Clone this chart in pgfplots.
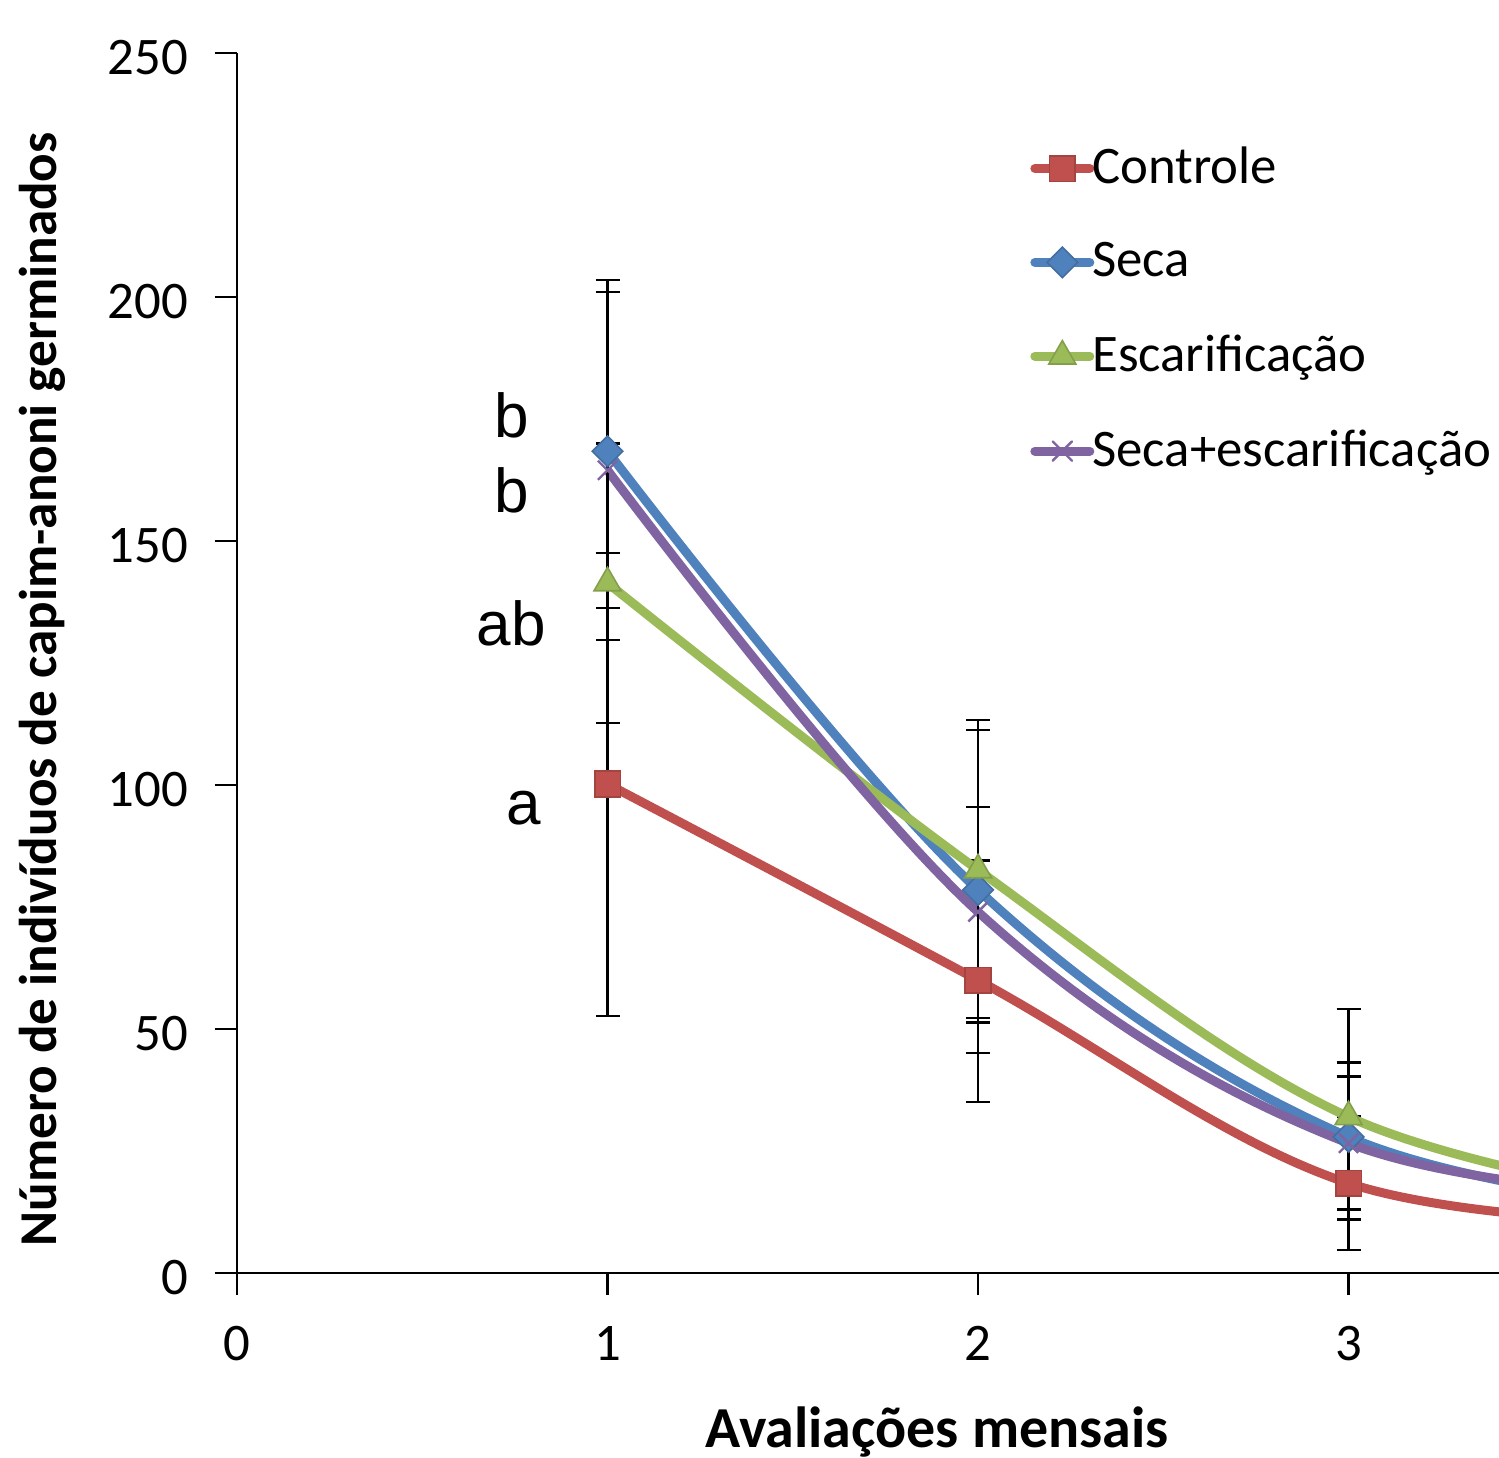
\documentclass[border=0pt]{standalone}
\usepackage{fontspec}
\setmainfont{Carlito}
\newfontfamily\arialf{Liberation Sans}
\usepackage{pgfplots}
\usepackage{pgfplotstable}
\pgfplotsset{compat=1.18}
\definecolor{cR}{RGB}{192,80,77}
\definecolor{cB}{RGB}{79,129,189}
\definecolor{cG}{RGB}{155,187,89}
\definecolor{cP}{RGB}{128,100,162}

\pgfplotstableread{
x y ep em
1 100.2 47.3 47.5
2 60.0 24.5 24.9
3 18.4 13.7 13.7
4 10.0 0 0
}\controle
\pgfplotstableread{
x y ep em
1 168.4 32.6 32.1
2 78.5 32.8 33.4
3 27.9 15.2 14.8
4 12.3 0 0
}\seca
\pgfplotstableread{
x y ep em
1 141.4 28.6 28.7
2 82.6 30.7 30.4
3 32.0 22.1 21.0
4 13.4 0 0
}\escar
\pgfplotstableread{
x y ep em
1 164.5 39.0 34.8
2 74.0 21.5 22.7
3 26.6 13.7 13.6
4 15.0 0 0
}\secaescar

\begin{document}
\begin{tikzpicture}
\begin{axis}[
  name=ax,
  scale only axis, width=315.5pt, height=305pt,
  xmin=0, xmax=3.406, ymin=0, ymax=250,
  axis lines*=left,
  axis line style={line width=0.6pt, black},
  xtick={0,1,2,3}, ytick={0,50,100,150,200,250},
  tick align=outside, major tick length=5.5pt,
  tick style={line width=0.6pt, black},
  /pgf/number format/assume math mode=true,
  ticklabel style={font=\fontsize{13.2}{15}\selectfont},
  yticklabel style={xshift=-3.25pt, yshift=-1.25pt},
  xticklabel style={yshift=-4.25pt},
  xlabel={Avaliações mensais},
  xlabel style={at={(axis description cs:0.5547,-0.1434)}, anchor=base, font=\bfseries\fontsize{14.5}{16}\selectfont},
  ylabel={Número de indivíduos de capim-anoni germinados},
  ylabel style={at={(axis description cs:-0.1434,0.4783)}, anchor=base, font=\bfseries\fontsize{13.3}{16}\selectfont},
  legend style={draw=none, fill=none, at={(rel axis cs:0.628,0.93)}, anchor=north west,
    font=\fontsize{13.2}{15}\selectfont, row sep=9.1pt, column sep=-2.5pt, inner sep=0pt},
  legend cell align=left,
  legend image code/.code={\draw[mark repeat=2,mark phase=2,line cap=round,#1] plot coordinates {(0pt,0pt) (6.875pt,0pt) (13.75pt,0pt)};},
  every axis plot/.append style={line width=2.25pt, smooth, tension=0.6},
  error bars/y dir=both, error bars/y explicit,
  error bars/error bar style={line width=0.6pt, black, solid},
  error bars/error mark options={rotate=90, mark size=3pt, line width=0.6pt, black},
]
\addplot[cR, mark=square*, mark size=3.2pt, mark options={fill=cR, draw=cR!85!black, line width=0.4pt}]
  table[x=x, y=y, y error plus=ep, y error minus=em]{\controle};
\addlegendentry{Controle}
\addplot[cB, mark=square*, mark size=2.7pt, mark options={rotate=45, fill=cB, draw=cB!85!black, line width=0.4pt}]
  table[x=x, y=y, y error plus=ep, y error minus=em]{\seca};
\addlegendentry{Seca}
\addplot[cG, mark=triangle*, mark size=3.9pt, mark options={fill=cG, draw=cG!85!black, line width=0.4pt}]
  table[x=x, y=y, y error plus=ep, y error minus=em]{\escar};
\addlegendentry{Escarificação}
\addplot[cP, mark=x, mark size=3.4pt, mark options={draw=cP, line width=0.6pt}]
  table[x=x, y=y, y error plus=ep, y error minus=em]{\secaescar};
\addlegendentry{Seca+escarificação}
\node[font=\arialf\fontsize{15.5}{17}\selectfont] at (axis cs:0.742,175.8) {b};
\node[font=\arialf\fontsize{15.5}{17}\selectfont] at (axis cs:0.742,160.4) {b};
\node[font=\arialf\fontsize{15.5}{17}\selectfont] at (axis cs:0.740,133.2) {ab};
\node[font=\arialf\fontsize{15.5}{17}\selectfont] at (axis cs:0.773,95.3) {a};
\end{axis}
\pgfresetboundingbox
\path ([xshift=-59.25pt,yshift=-46pt]ax.south west) rectangle ([yshift=13.25pt]ax.north east);
\end{tikzpicture}
\end{document}
